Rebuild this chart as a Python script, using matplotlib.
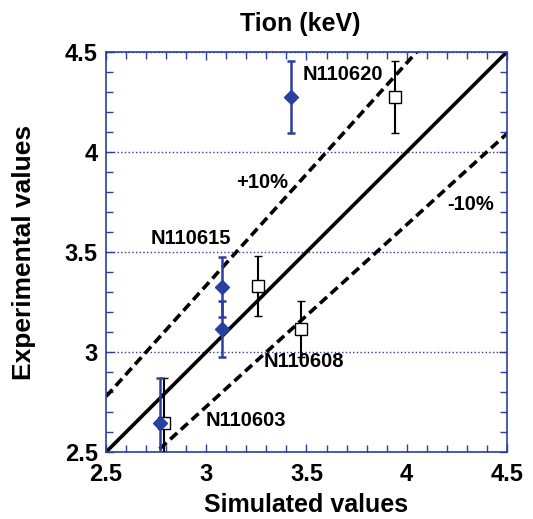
import matplotlib
matplotlib.use("Agg")
import matplotlib.pyplot as plt
import numpy as np
from matplotlib.ticker import MultipleLocator, FuncFormatter

plt.rcParams['font.family'] = ['Liberation Sans', 'DejaVu Sans']
plt.rcParams['font.weight'] = 'bold'

# experimental (blue diamonds)
exp_x = [2.77, 3.08, 3.08, 3.425]
exp_y = [2.645, 3.325, 3.115, 4.275]
exp_err = [0.225, 0.15, 0.14, 0.18]

# simulated (open squares)
sim_x = [2.79, 3.26, 3.475, 3.94]
sim_y = [2.645, 3.33, 3.115, 4.275]
sim_err = [0.225, 0.15, 0.14, 0.18]

shots = ['N110603', 'N110615', 'N110608', 'N110620']
shot_pos = [(2.995, 2.66), (2.72, 3.565), (3.285, 2.955), (3.48, 4.385)]

blue = '#2b3fa0'

fig = plt.figure(figsize=(5.33, 5.19), dpi=100)
ax = fig.add_axes([0.199, 0.129, 0.752, 0.771])

# reference lines: y = x and +/-10%
xl = np.array([2.5, 4.5])
ax.plot(xl, xl, color='black', lw=2.6)
ax.plot(xl, xl / 0.9, color='black', lw=2.6, ls=(0, (2.6, 1.4)))
ax.plot(xl, xl / 1.1, color='black', lw=2.6, ls=(0, (2.6, 1.4)))

ax.errorbar(exp_x, exp_y, yerr=exp_err, fmt='D', color=blue, ms=7,
            capsize=3, elinewidth=1.8, capthick=1.8, zorder=4)
ax.errorbar(sim_x, sim_y, yerr=sim_err, fmt='s', color='black', mfc='white',
            mec='black', mew=1.0, ms=9, capsize=3, elinewidth=1.5,
            capthick=1.5, zorder=3)

for s, (tx, ty) in zip(shots, shot_pos):
    ax.text(tx, ty, s, fontsize=14.5, fontweight='bold', ha='left', va='center')
ax.text(3.15, 3.845, '+10%', fontsize=14.5, fontweight='bold', ha='left', va='center')
ax.text(4.2, 3.735, '-10%', fontsize=14.5, fontweight='bold', ha='left', va='center')

ax.set_xlim(2.5, 4.5)
ax.set_ylim(2.5, 4.5)
ax.xaxis.set_major_locator(MultipleLocator(0.5))
ax.yaxis.set_major_locator(MultipleLocator(0.5))
ax.xaxis.set_minor_locator(MultipleLocator(0.1))
ax.yaxis.set_minor_locator(MultipleLocator(0.1))
ax.xaxis.set_major_formatter(FuncFormatter(lambda v, p: f'{v:g}'))
ax.yaxis.set_major_formatter(FuncFormatter(lambda v, p: f'{v:g}'))
ax.tick_params(which='both', direction='in', top=True, right=True, color=blue,
               labelsize=17)
ax.tick_params(axis='x', which='major', pad=8)
ax.tick_params(axis='y', which='major', pad=6)
ax.tick_params(which='major', length=6, width=1)
ax.tick_params(which='minor', length=5, width=1)
for sp in ax.spines.values():
    sp.set_color(blue)
    sp.set_linewidth(1.2)

ax.yaxis.grid(True, color=blue, ls=':', lw=1)
ax.set_axisbelow(True)

ax.set_title('Tion (keV)', fontsize=18, fontweight='bold', pad=15, x=0.485)
ax.set_xlabel('Simulated values', fontsize=18, fontweight='bold')
ax.set_ylabel('Experimental values', fontsize=19, fontweight='bold')
ax.xaxis.set_label_coords(0.5, -0.102)
ax.yaxis.set_label_coords(-0.175, 0.5)

fig.savefig('out.png', dpi=100)
